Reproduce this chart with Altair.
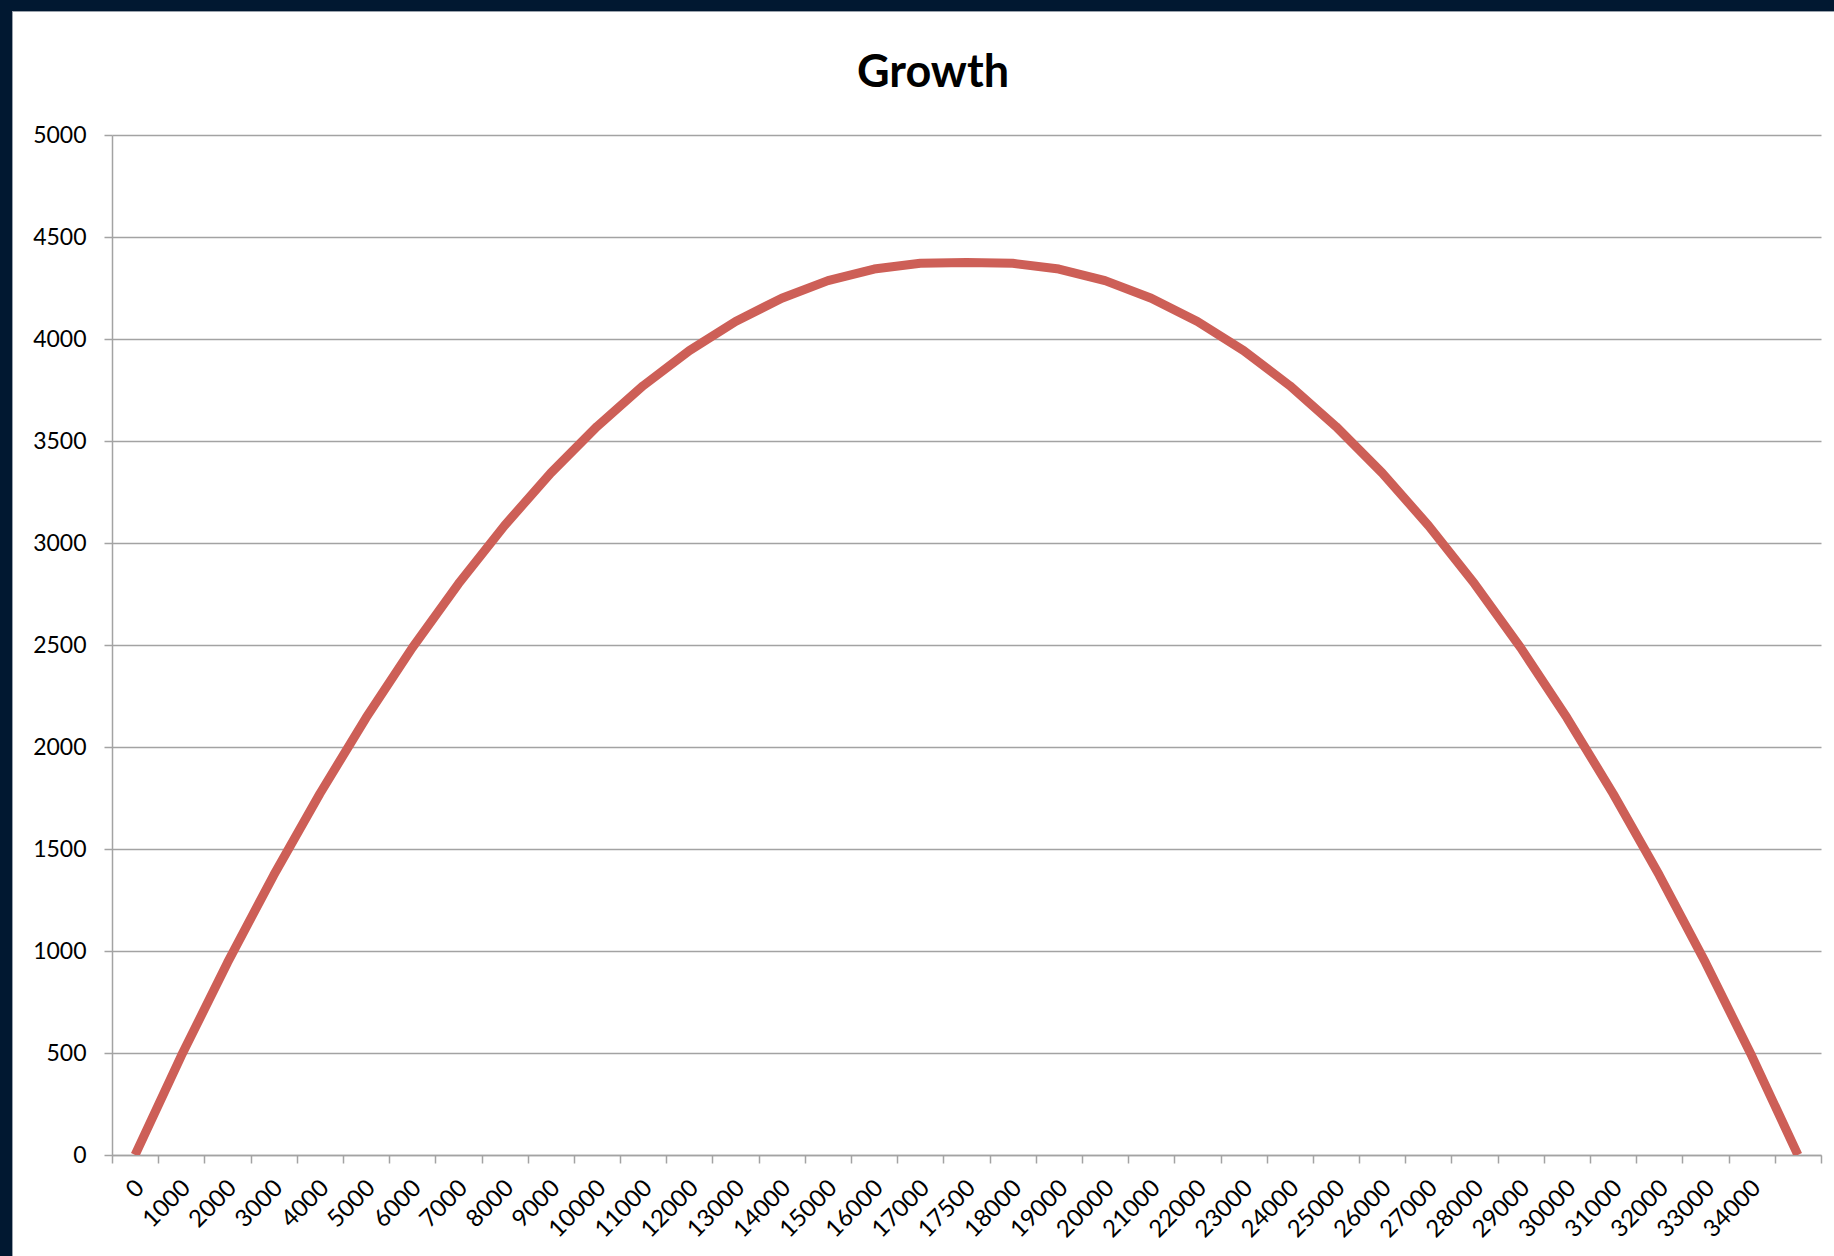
import altair as alt
import pandas as pd

# Category labels along the x axis (the final category carries no visible label)
categories = [
    "0", "1000", "2000", "3000", "4000", "5000", "6000", "7000", "8000", "9000",
    "10000", "11000", "12000", "13000", "14000", "15000", "16000", "17000",
    "17500",
    "18000", "19000", "20000", "21000", "22000", "23000", "24000", "25000",
    "26000", "27000", "28000", "29000", "30000", "31000", "32000", "33000",
    "34000", "35000",
]

# Growth value for each category
growth = [
    0, 486, 943, 1371, 1771, 2143, 2486, 2800, 3086, 3343,
    3571, 3771, 3943, 4086, 4200, 4286, 4343, 4371,
    4375,
    4371, 4343, 4286, 4200, 4086, 3943, 3771, 3571, 3343,
    3086, 2800, 2486, 2143, 1771, 1371, 943, 486, 0,
]

y_ticks = [0, 500, 1000, 1500, 2000, 2500, 3000, 3500, 4000, 4500, 5000]
hidden_label = "35000"
chart_title = "Growth"

df = pd.DataFrame({"category": categories, "growth": growth})

W, H = 1709, 1020
PAD_L, PAD_T, PAD_R, PAD_B = 112, 135, 13, 101

FONT = "Lato"
GRID = "#A3A3A3"
NAVY = "#011831"

line = alt.Chart(df).mark_line(
    color="#CD5F57", strokeWidth=9, clip=True, strokeJoin="round"
).encode(
    x=alt.X(
        "category:O",
        sort=categories,
        scale=alt.Scale(type="band", paddingInner=0, paddingOuter=0),
        axis=alt.Axis(
            title=None,
            tickBand="extent",
            labelAngle=-45,
            labelAlign="right",
            labelBaseline="middle",
            labelOverlap=False,
            labelPadding=21,
            labelOffset=5,
            labelFont=FONT,
            labelFontSize=24,
            labelColor="#000000",
            labelExpr=f"datum.value == '{hidden_label}' ? '' : datum.value",
            tickSize=8,
            tickColor=GRID,
            tickWidth=1.5,
            domainColor=GRID,
            domainWidth=1.5,
            grid=False,
        ),
    ),
    y=alt.Y(
        "growth:Q",
        scale=alt.Scale(domain=[0, 5000], nice=False, zero=True),
        axis=alt.Axis(
            title=None,
            values=y_ticks,
            format="d",
            labelFont=FONT,
            labelFontSize=23,
            labelColor="#000000",
            labelPadding=18,
            tickSize=8,
            tickColor=GRID,
            tickWidth=1.5,
            domainColor=GRID,
            domainWidth=1.5,
            grid=True,
            gridColor=GRID,
            gridWidth=1.5,
        ),
    ),
)

# Dark frame along the left and top edges of the slide
frame_df = pd.DataFrame({"k": [0]})
left_strip = alt.Chart(frame_df).mark_rect(color=NAVY, clip=False).encode(
    x=alt.value(-PAD_L), x2=alt.value(-PAD_L + 12),
    y=alt.value(-PAD_T), y2=alt.value(H + PAD_B),
)
top_strip = alt.Chart(frame_df).mark_rect(color=NAVY, clip=False).encode(
    x=alt.value(-PAD_L), x2=alt.value(W + PAD_R),
    y=alt.value(-PAD_T), y2=alt.value(-PAD_T + 11),
)
left_edge = alt.Chart(frame_df).mark_rule(color="#9AA2AC", strokeWidth=1).encode(
    x=alt.value(-PAD_L + 12.5), y=alt.value(-PAD_T + 11), y2=alt.value(H + PAD_B),
)
top_edge = alt.Chart(frame_df).mark_rule(color="#9AA2AC", strokeWidth=1).encode(
    x=alt.value(-PAD_L + 12), x2=alt.value(W + PAD_R), y=alt.value(-PAD_T + 11.5),
)

# Chart heading, centred over the white slide area
title_df = pd.DataFrame({"text": [chart_title]})
heading = alt.Chart(title_df).mark_text(
    font=FONT, fontSize=45, fontWeight="bold", color="#000000",
    align="center", baseline="alphabetic", clip=False,
).encode(
    text="text:N",
    x=alt.value(821),
    y=alt.value(-48),
)

chart = alt.layer(left_strip, top_strip, left_edge, top_edge, heading, line).properties(
    width=W,
    height=H,
    autosize=alt.AutoSizeParams(type="none"),
    padding={"left": PAD_L, "top": PAD_T, "right": PAD_R, "bottom": PAD_B},
    background="#FFFFFF",
).configure_view(stroke=None)

chart.save("out.html", embed_options={"renderer": "svg", "actions": False})
